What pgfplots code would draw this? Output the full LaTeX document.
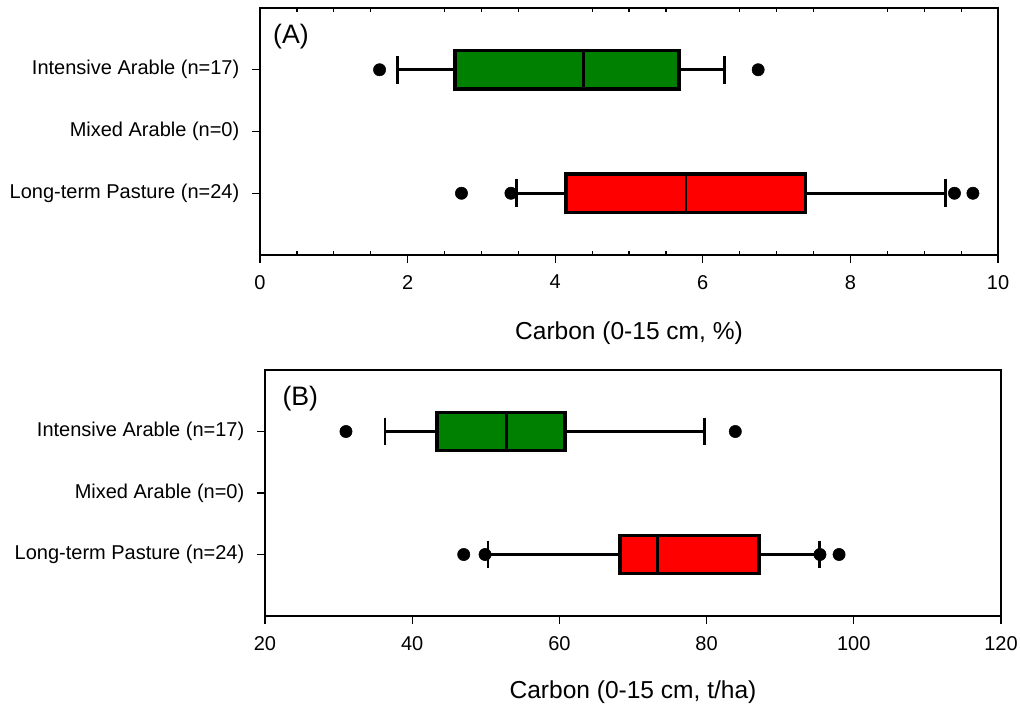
\documentclass[border=0pt]{standalone}
\usepackage{fontspec}
\setmainfont{Liberation Sans}
\usepackage{pgfplots}
\pgfplotsset{compat=1.18}
\usepgfplotslibrary{statistics}

\definecolor{boxgreen}{RGB}{0,128,0}
\definecolor{boxred}{RGB}{255,0,0}

\pgfplotsset{
  panel/.style={
    scale only axis,
    anchor=south west,
    axis line style={line width=1.1pt},
    ymin=0, ymax=4, y dir=reverse,
    ytick={1,2,3},
    yticklabels={Intensive Arable (n=17), Mixed Arable (n=0), Long-term Pasture (n=24)},
    xtick pos=bottom, ytick pos=left,
    tick align=outside,
    major tick length=6pt,
    tick style={line width=0.9pt, black},
    ticklabel style={font=\fontsize{15}{17}\selectfont},
    xticklabel style={yshift=-5.5pt},
    yticklabel style={xshift=-6pt},
    /pgf/number format/assume math mode=true,
    xlabel style={font=\fontsize{18.4}{20}\selectfont, at={(axis description cs:0.5,0)}, anchor=center},
    boxplot/draw direction=x,
    boxplot/box extend=0.62,
    boxplot/whisker extend=0.45,
    boxplot/every box/.style={line width=2.7pt},
    boxplot/every whisker/.style={line width=2.2pt},
    boxplot/every median/.style={line width=1.9pt},
    clip=false,
  },
  outl/.style={only marks, mark=*, mark size=4.6pt, black},
}

\begin{document}
\begin{tikzpicture}
\path[use as bounding box] (0,0) rectangle (765pt,531pt);

% ---------------- Panel A ----------------
\begin{axis}[panel,
  at={(195pt,339.75pt)},
  width=553.5pt, height=185.25pt,
  xmin=0, xmax=10,
  xtick={0,2,4,6,8,10},
  extra x ticks={0.5,1,1.5,2.5,3,3.5,4.5,5,5.5,6.5,7,7.5,8.5,9,9.5},
  extra x tick labels={},
  extra x tick style={xtick pos=both, tick align=inside, major tick length=3pt},
  xlabel={Carbon (0-15 cm, \%)},
  xlabel style={yshift=-58.5pt},
]
\addplot[boxplot prepared={draw position=1,
  lower whisker=1.86, lower quartile=2.64, median=4.38,
  upper quartile=5.68, upper whisker=6.30},
  draw=black, fill=boxgreen] coordinates {};
\addplot[outl] coordinates {(1.62,1) (6.75,1)};

\addplot[boxplot prepared={draw position=3,
  lower whisker=3.47, lower quartile=4.15, median=5.77,
  upper quartile=7.39, upper whisker=9.29},
  draw=black, fill=boxred] coordinates {};
\addplot[outl] coordinates {(2.73,3) (3.40,3) (9.41,3) (9.66,3)};

\node[font=\fontsize{20}{22}\selectfont] at (axis description cs:0.042,0.883) {(A)};
\end{axis}

% ---------------- Panel B ----------------
\begin{axis}[panel,
  at={(198.75pt,69pt)},
  width=552pt, height=184.5pt,
  xmin=20, xmax=120,
  xtick={20,40,60,80,100,120},
  xlabel={Carbon (0-15 cm, t/ha)},
  xlabel style={yshift=-57pt},
]
\addplot[boxplot prepared={draw position=1,
  lower whisker=36.3, lower quartile=43.4, median=52.8,
  upper quartile=60.8, upper whisker=79.7},
  draw=black, fill=boxgreen] coordinates {};
\addplot[outl] coordinates {(31.0,1) (83.9,1)};

\addplot[boxplot prepared={draw position=3,
  lower whisker=50.3, lower quartile=68.2, median=73.3,
  upper quartile=87.1, upper whisker=95.4},
  draw=black, fill=boxred] coordinates {};
\addplot[outl] coordinates {(47.0,3) (49.9,3) (95.4,3) (98.0,3)};

\node[font=\fontsize{20}{22}\selectfont] at (axis description cs:0.048,0.883) {(B)};
\end{axis}
\end{tikzpicture}
\end{document}
